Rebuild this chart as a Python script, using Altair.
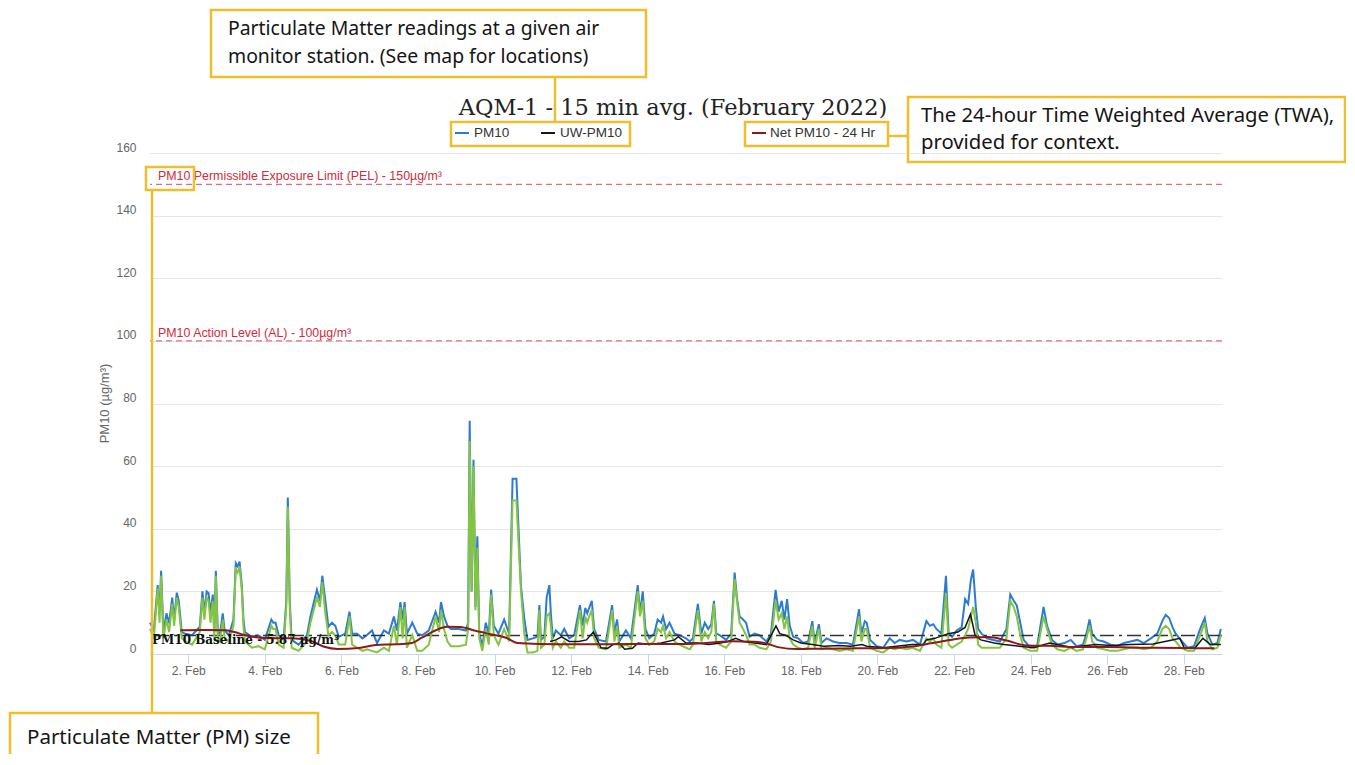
import altair as alt
import pandas as pd

# ---------------- data ----------------
# time in days since 1 Feb 2022 00:00
pm_days = [0.00, 0.10, 0.20, 0.25, 0.29, 0.35, 0.43, 0.50, 0.58, 0.63, 0.70, 0.75, 0.83, 0.92, 1.10,
           1.30, 1.37, 1.42, 1.48, 1.53, 1.58, 1.64, 1.68, 1.72, 1.77, 1.83, 1.90, 1.95, 2.06, 2.18,
           2.24, 2.29, 2.34, 2.40, 2.44, 2.48, 2.66, 2.83, 3.00, 3.17, 3.22, 3.28, 3.36, 3.49, 3.56,
           3.60, 3.65, 3.70, 3.88, 4.10, 4.19, 4.36, 4.44, 4.50, 4.58, 4.66, 4.75, 4.84, 4.93, 5.10,
           5.21, 5.28, 5.41, 5.55, 5.66, 5.80, 5.93, 6.11, 6.24, 6.37, 6.45, 6.54, 6.60, 6.65, 6.71,
           6.85, 6.98, 7.11, 7.28, 7.46, 7.55, 7.60, 7.68, 7.77, 7.86, 8.07, 8.25, 8.31, 8.35, 8.40,
           8.45, 8.50, 8.55, 8.60, 8.68, 8.77, 8.85, 8.91, 8.98, 9.10, 9.25, 9.38, 9.47, 9.57, 9.69,
           9.78, 9.86, 10.00, 10.12, 10.17, 10.21, 10.30, 10.36, 10.43, 10.47, 10.52, 10.60, 10.73, 10.82, 10.95,
           11.08, 11.23, 11.30, 11.37, 11.42, 11.47, 11.54, 11.60, 11.72, 11.91, 12.07, 12.13, 12.20, 12.26, 12.43,
           12.56, 12.74, 12.80, 12.87, 12.94, 13.04, 13.17, 13.26, 13.35, 13.40, 13.48, 13.57, 13.70, 13.83, 14.00,
           14.10, 14.18, 14.31, 14.40, 14.49, 14.58, 14.66, 14.73, 14.79, 14.88, 15.05, 15.18, 15.27, 15.33, 15.40,
           15.49, 15.57, 15.66, 15.79, 15.92, 16.10, 16.22, 16.34, 16.42, 16.50, 16.57, 16.64, 16.71, 16.80, 16.93,
           17.06, 17.19, 17.30, 17.36, 17.47, 17.54, 17.67, 17.84, 18.01, 18.19, 18.36, 18.52, 18.58, 18.67, 18.72,
           18.81, 18.98, 19.15, 19.32, 19.45, 19.58, 19.76, 19.93, 20.11, 20.28, 20.37, 20.46, 20.54, 20.67, 20.79,
           20.86, 20.95, 21.07, 21.20, 21.29, 21.37, 21.44, 21.50, 21.57, 21.63, 21.72, 21.86, 22.03, 22.20, 22.37,
           22.47, 22.56, 22.64, 22.73, 22.82, 22.99, 23.17, 23.34, 23.43, 23.56, 23.70, 23.88, 24.05, 24.20, 24.37,
           24.46, 24.54, 24.61, 24.74, 24.91, 25.09, 25.26, 25.44, 25.61, 25.79, 25.96, 26.14, 26.31, 26.44, 26.53,
           26.62, 26.71, 26.79, 26.92, 27.10, 27.27, 27.43, 27.55, 27.62, 27.75, 27.88, 27.97]

pm10 = [10, 7.6, 22, 13, 26.6, 7, 13, 9.8, 18, 11, 19.6, 17, 7, 6.5, 6,
        8.7, 20, 13, 20, 19.5, 13, 19, 7, 26.6, 7, 6.5, 13, 7.5, 6, 11,
        29, 28, 29.5, 21.5, 11, 7, 5.5, 6, 4.5, 11, 10, 10, 6, 4.5, 17,
        50, 17, 4.5, 3, 6, 12, 20.5, 17, 25, 17, 8.7, 10, 9, 5.5, 6.5,
        13.5, 6.5, 6.5, 5, 6, 7.5, 3.5, 7.5, 6.5, 12, 7.5, 16.6, 11, 16.6, 6.5,
        10, 6.5, 6, 7.5, 13.5, 10, 16.6, 12, 9, 8, 8, 7.5, 10, 74.5, 20,
        62, 15, 37.6, 6.5, 2.5, 10, 6.5, 20.6, 9, 6.5, 11, 6.5, 56, 56, 21.5,
        11, 4.5, 5, 5.5, 15.6, 4.5, 5.5, 18, 22, 13, 5, 7.5, 6, 8, 5,
        6, 15.6, 9, 14.7, 13, 14.7, 17, 8, 4.5, 4, 15.6, 6.5, 11, 4, 7.5,
        5, 22, 13, 20, 8, 5, 6.5, 11, 10, 12, 8, 10, 6.5, 6, 5,
        4, 5, 16, 6.5, 10, 8, 9.5, 17, 6.5, 6, 4.5, 6.5, 26, 18, 12,
        11, 10, 5.5, 6.5, 6, 4, 6.5, 20.5, 13.5, 17, 11, 17.5, 9, 5.5, 5,
        3.5, 4, 10.5, 3.5, 9.5, 3.5, 5, 4, 3.5, 3.5, 3, 14.3, 6.5, 10.5, 10,
        4.5, 2.5, 2, 5, 3.5, 4.5, 4, 4.5, 3, 10.5, 9, 9.5, 8, 6.5, 25,
        6.5, 5.5, 7.5, 8.5, 17.5, 16, 23.6, 27, 15, 8, 6.5, 5, 4.5, 4, 8,
        19, 17, 15.5, 10, 4.5, 2, 2.5, 15, 9, 4.5, 3, 3.5, 4.5, 2.5, 3,
        6.5, 11, 6.5, 4.5, 4, 3, 2.5, 3.5, 4, 4.5, 3.5, 5, 6.5, 10.5, 12.5,
        11.5, 8.5, 6.5, 4.5, 2, 2.5, 8, 11.5, 6.5, 3, 3.5, 8]

pm10_green = [8, 5, 21, 10, 25, 5, 11, 7, 16, 9, 18, 15, 5, 4, 3,
              7, 18, 11, 18, 17, 10, 17, 5, 25, 5, 4, 11, 5, 4, 9,
              27, 26, 28, 20, 9, 4, 2, 2.5, 1.5, 9, 8, 8, 3, 2, 15,
              47, 15, 2, 1, 4, 10, 18, 15, 23, 13, 6, 7, 6, 3, 3,
              12, 3, 2, 1, 1.5, 1, 0.5, 2, 1, 9, 3, 15, 5, 15, 2,
              6, 1, 1, 3, 12, 7, 14, 8, 4, 2.5, 2.5, 3, 8, 68, 20,
              60, 14, 34, 5, 1, 8, 3, 19, 6, 3, 8, 4, 49, 49, 20,
              6, 0.5, 0.5, 1, 14, 2, 3, 12, 13, 9, 2, 4, 2, 4, 2,
              2, 14, 5, 12, 10, 12, 14, 5, 2, 1.5, 14, 4, 9, 2, 3,
              2, 20, 12, 17, 5, 3, 4, 8, 7, 9, 5, 7, 4, 3, 2,
              1.5, 3, 14, 4, 7, 5, 7, 16, 4, 3, 2, 4, 24, 17, 10,
              8, 6, 3, 3, 2, 1.5, 4, 17, 11, 13, 8, 12, 5, 3, 2,
              1.5, 2, 9, 2, 8, 1.5, 2, 1.5, 1, 1.5, 1, 12, 4, 8, 8,
              2, 1, 0.5, 2, 1.5, 2, 1.5, 2, 1, 5, 4, 5, 3, 2, 19.5,
              3, 2, 3, 4, 6, 8, 12, 15, 10, 3, 2, 2, 2, 2, 5,
              17, 15, 12, 6, 2, 1, 1, 12, 8, 3, 1.5, 1, 2, 1, 1.5,
              5, 9, 4, 2, 1.5, 1, 1, 1.5, 2, 2, 1.5, 2, 4, 8, 9,
              8, 5, 4, 2, 1, 1, 6, 10, 4, 1.5, 2, 6]

uw_days = [10.45, 10.60, 10.75, 10.95, 11.20, 11.40, 11.58, 11.66, 11.78, 11.95, 12.09, 12.25, 12.40, 12.60, 12.75,
           13.04, 13.35, 13.70, 13.80, 14.00, 14.30, 14.60, 14.90, 15.10, 15.30, 15.50, 15.80, 16.10, 16.35, 16.45,
           16.60, 16.80, 17.00, 17.30, 17.60, 18.00, 18.30, 18.60, 18.72, 19.15, 19.50, 19.90, 20.20, 20.28, 20.50,
           20.85, 21.10, 21.29, 21.43, 21.55, 21.70, 22.05, 22.30, 22.70, 23.10, 23.34, 23.50, 23.70, 24.10, 24.30,
           24.70, 25.10, 25.60, 26.20, 26.70, 26.90, 27.02, 27.30, 27.50, 27.70, 27.97]
uw_pm10 = [4, 4.5, 5.5, 4, 4, 4.5, 7, 5, 2, 1.8, 3, 3.5, 1.5, 1.8, 3.5,
           3, 3.5, 4.5, 5.5, 3.5, 3.5, 3, 3.5, 4, 5, 4, 3.5, 3, 9, 6.5,
           6, 4.5, 3.5, 3, 2.5, 2.7, 2.5, 3, 2.5, 2, 2.5, 3, 3, 4.5, 5,
           6.5, 7, 8.5, 12.7, 6, 4.5, 3.5, 3, 2.5, 2, 3, 3.5, 3, 2, 2.5,
           3, 2.7, 3, 3.2, 4.5, 5, 1.8, 2, 5, 3, 3]

net_days = [0.79, 1.40, 1.96, 2.20, 2.50, 3.00, 3.70, 4.20, 4.55, 4.90, 5.45, 5.90, 6.40, 6.80, 7.10,
            7.45, 7.75, 8.10, 8.50, 8.90, 9.30, 9.60, 10.20, 11.00, 12.00, 13.00, 14.00, 14.60, 15.20, 15.80,
            16.10, 16.40, 16.90, 17.50, 18.50, 19.30, 19.90, 20.40, 20.90, 21.40, 21.90, 22.40, 22.90, 23.50, 24.20,
            25.00, 26.00, 27.00, 27.80]
net_pm10_24h = [7.6, 7.7, 7.6, 7.0, 6.0, 5.1, 5.0, 4.2, 2.3, 1.6, 1.9, 2.9, 3.1, 3.4, 5.2,
                7.5, 8.7, 8.6, 7.4, 6.3, 5.2, 3.5, 3.2, 3.1, 3.1, 3.2, 3.2, 3.6, 4.1, 3.9,
                3.4, 2.2, 1.6, 1.7, 1.8, 1.9, 2.4, 3.4, 4.5, 5.3, 5.4, 4.2, 2.7, 2.6, 2.2,
                2.2, 2.0, 1.9, 1.8]

pel_value = 150
al_value = 100
baseline_value = 5.87
y_ticks = [0, 20, 40, 60, 80, 100, 120, 140, 160]
x_tick_dates = [2, 4, 6, 8, 10, 12, 14, 16, 18, 20, 22, 24, 26, 28]

# ---------------- build tables ----------------
BASE = pd.Timestamp("2022-02-01")


def to_time(days):
    return [(BASE + pd.Timedelta(days=d)).strftime("%Y-%m-%dT%H:%M:%S") for d in days]


pm_df = pd.DataFrame({"t": to_time(pm_days), "blue": pm10, "green": pm10_green})
uw_df = pd.DataFrame({"t": to_time(uw_days), "v": uw_pm10})
net_df = pd.DataFrame({"t": to_time(net_days), "v": net_pm10_24h})
one = pd.DataFrame({"k": [0]})

W, H = 1072, 501
YEL = "#EDBE2E"
SANS = "Liberation Sans"
BLUE, GREEN, BLACK, DARKRED = "#2b7bd0", "#84c440", "#15151f", "#8b1a1a"

x_scale = alt.Scale(domain=[alt.DateTime(year=2022, month=2, date=1),
                            alt.DateTime(year=2022, month=3, date=1)])
y_scale = alt.Scale(domain=[0, 160], nice=False)

x_axis = alt.Axis(values=[alt.DateTime(year=2022, month=2, date=d) for d in x_tick_dates],
                  format="%-d. %b", title=None, grid=False, labelColor="#666", labelFontSize=12,
                  labelFont=SANS, tickColor="#ccd6eb", tickSize=10, domainColor="#ccd6eb",
                  labelPadding=1, labelFlush=False)
y_axis = alt.Axis(values=y_ticks, title="PM10 (µg/m³)", grid=True, gridColor="#e6e6e6",
                  domain=False, ticks=False, labelColor="#666", labelFontSize=12, labelFont=SANS,
                  labelPadding=14, labelBaseline="middle", labelOffset=-6,
                  titleColor="#666", titleFont=SANS, titleFontSize=13, titleFontWeight="normal",
                  titleAngle=270, titleX=-46, titleY=250, titleAlign="center", titleBaseline="middle")

X = alt.X("t:T", scale=x_scale, axis=x_axis)


def ref_rule(val, color, dash, width=1.0):
    return alt.Chart(one).mark_rule(color=color, strokeDash=dash, strokeWidth=width).encode(
        y=alt.datum(val))


base_axis_layer = alt.Chart(pm_df).mark_line(color=BLUE, strokeWidth=2).encode(
    x=X, y=alt.Y("blue:Q", scale=y_scale, axis=y_axis))
green_layer = alt.Chart(pm_df).mark_line(color=GREEN, strokeWidth=2).encode(
    x=alt.X("t:T", scale=x_scale), y=alt.Y("green:Q", scale=y_scale))
uw_layer = alt.Chart(uw_df).mark_line(color=BLACK, strokeWidth=1.5).encode(
    x=alt.X("t:T", scale=x_scale), y=alt.Y("v:Q", scale=y_scale))
net_layer = alt.Chart(net_df).mark_line(color=DARKRED, strokeWidth=2, interpolate="monotone").encode(
    x=alt.X("t:T", scale=x_scale), y=alt.Y("v:Q", scale=y_scale))

pel_rule = ref_rule(pel_value, "#dd4a5a", [6, 4])
al_rule = ref_rule(al_value, "#dd4a5a", [6, 4])
base_rule = ref_rule(baseline_value, "#333333", [14, 5, 3, 5], 1.5)

pel_label = alt.Chart(one).mark_text(text="PM10 Permissible Exposure Limit (PEL) - 150µg/m³",
                                     align="left", baseline="bottom", color="#d22a3c",
                                     fontSize=12.4, font=SANS, dy=-1).encode(
    x=alt.value(8), y=alt.datum(pel_value))
al_label = alt.Chart(one).mark_text(text="PM10 Action Level (AL) - 100µg/m³",
                                    align="left", baseline="bottom", color="#d22a3c",
                                    fontSize=12.4, font=SANS, dy=-1).encode(
    x=alt.value(8), y=alt.datum(al_value))
base_label = alt.Chart(one).mark_text(text="PM10 Baseline - 5.87 µg/m³", align="left",
                                      baseline="top", color="#111", fontSize=12,
                                      font="DejaVu Serif", fontWeight="bold", dy=-1).encode(
    x=alt.value(2), y=alt.datum(baseline_value))

# ---------------- title and legend ----------------
title_mark = alt.Chart(one).mark_text(text="AQM-1 - 15 min avg. (February 2022)", align="center",
                                      baseline="middle", font="DejaVu Serif", fontSize=22.5,
                                      color="#222").encode(x=alt.value(523), y=alt.value(-45))


def leg_sym(x0, color):
    return alt.Chart(one).mark_rule(color=color, strokeWidth=2).encode(
        x=alt.value(x0), x2=alt.value(x0 + 14), y=alt.value(-20))


def leg_txt(x0, label):
    return alt.Chart(one).mark_text(text=label, align="left", baseline="middle", fontSize=13.5,
                                    font=SANS, color="#333").encode(x=alt.value(x0), y=alt.value(-20))


legend = [leg_sym(305, BLUE), leg_txt(324, "PM10"),
          leg_sym(391, BLACK), leg_txt(410, "UW-PM10"),
          leg_sym(602, DARKRED), leg_txt(620, "Net PM10 - 24 Hr")]

# ---------------- yellow annotation boxes ----------------


def box(x1, x2, y1, y2):
    return alt.Chart(one).mark_rect(filled=False, stroke=YEL, strokeWidth=2.5).encode(
        x=alt.value(x1), x2=alt.value(x2), y=alt.value(y1), y2=alt.value(y2))


def seg(x1, x2, y1, y2):
    return alt.Chart(one).mark_rule(color=YEL, strokeWidth=2.5).encode(
        x=alt.value(x1), x2=alt.value(x2), y=alt.value(y1), y2=alt.value(y2))


def note(x0, y0, label, size):
    return alt.Chart(one).mark_text(text=label, align="left", baseline="middle", fontSize=size,
                                    font="Noto Sans", color="#151515").encode(
        x=alt.value(x0), y=alt.value(y0))


notes = [
    box(61, 496, -143, -76),
    note(78, -124, "Particulate Matter readings at a given air", 19.4),
    note(78, -96, "monitor station. (See map for locations)", 19.4),
    seg(405, 405, -76, -31),
    box(301, 480, -31, -7),
    box(595, 738, -31, -7),
    seg(738, 758, -17, -17),
    box(758, 1195, -56, 9),
    note(771, -37, "The 24-hour Time Weighted Average (TWA),", 20.3),
    note(771, -10, "provided for context.", 20.3),
    box(-4, 44, 14, 37),
    seg(2, 2, 37, 560),
    box(-140, 168, 560, 625),
    note(-123, 585, "Particulate Matter (PM) size", 20.5),
]

chart = alt.layer(
    base_axis_layer, pel_rule, al_rule, base_rule,
    green_layer, uw_layer, net_layer,
    pel_label, al_label, base_label,
    title_mark, *legend, *notes,
).properties(
    width=W, height=H,
    padding={"left": 142, "top": 145, "right": 124, "bottom": 100},
    autosize=alt.AutoSizeParams(type="none"),
).configure(background="white").configure_view(stroke=None)

chart.save("out.html", embed_options={"renderer": "svg", "actions": False})
